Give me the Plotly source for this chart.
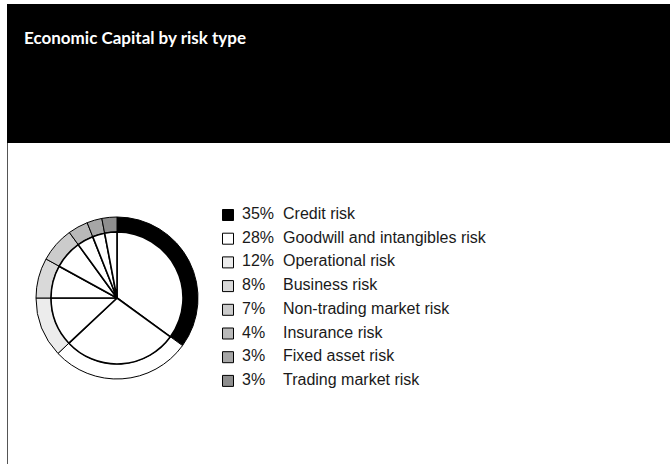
import plotly.graph_objects as go

# Economic Capital split by risk type (percent of total)
risk_types = [
    "Credit risk",
    "Goodwill and intangibles risk",
    "Operational risk",
    "Business risk",
    "Non-trading market risk",
    "Insurance risk",
    "Fixed asset risk",
    "Trading market risk",
]
shares = [35, 28, 12, 8, 7, 4, 3, 3]
shades = ["#000000", "#ffffff", "#ececec", "#d9d9d9", "#cbcbcb",
          "#b9b9b9", "#a6a6a6", "#8e8e8e"]

W, H = 670, 464


def px(x):
    return x / W


def py(y):
    return 1 - y / H


# pie geometry (pixels)
CX, CY = 117, 298
R_OUT, R_IN = 81, 66

fig = go.Figure()

# coloured outer ring
fig.add_trace(go.Pie(
    values=shares, labels=risk_types, sort=False, direction="clockwise",
    rotation=0, hole=R_IN / R_OUT, textinfo="none", hoverinfo="label+percent",
    marker=dict(colors=shades, line=dict(color="#000000", width=1)),
    domain=dict(x=[px(CX - R_OUT), px(CX + R_OUT)], y=[py(CY + R_OUT), py(CY - R_OUT)]),
    showlegend=False,
))

# white inner pie with black spokes
fig.add_trace(go.Pie(
    values=shares, labels=risk_types, sort=False, direction="clockwise",
    rotation=0, textinfo="none", hoverinfo="label+percent",
    marker=dict(colors=["#ffffff"] * len(shares), line=dict(color="#000000", width=1.6)),
    domain=dict(x=[px(CX - R_IN), px(CX + R_IN)], y=[py(CY + R_IN), py(CY - R_IN)]),
    showlegend=False,
))

# legend drawn as rows on a hidden axis: row index -> vertical position
ROW0, ROW_STEP = 215, 23.7
rows = list(range(len(risk_types)))
y_top = -ROW0 / ROW_STEP
y_bot = (H - ROW0) / ROW_STEP
MARK_X, PCT_X, NAME_X = 228, 242, 283
LEG_FONT = dict(family="Liberation Sans, Arial, sans-serif", size=16, color="#1a1a1a")

fig.add_trace(go.Scatter(
    x=[MARK_X] * len(rows), y=rows, mode="markers", hoverinfo="skip",
    marker=dict(symbol="square", size=11, color=shades, line=dict(color="#000000", width=1)),
    showlegend=False,
))
fig.add_trace(go.Scatter(
    x=[PCT_X] * len(rows), y=rows, mode="text", hoverinfo="skip",
    text=[f"{v}%" for v in shares], textposition="middle right", textfont=LEG_FONT,
    showlegend=False,
))
fig.add_trace(go.Scatter(
    x=[NAME_X] * len(rows), y=rows, mode="text", hoverinfo="skip",
    text=risk_types, textposition="middle right", textfont=LEG_FONT,
    showlegend=False,
))

fig.update_layout(
    width=W, height=H,
    margin=dict(l=0, r=0, t=0, b=0),
    paper_bgcolor="#ffffff", plot_bgcolor="rgba(0,0,0,0)",
    xaxis=dict(range=[0, W], domain=[0, 1], visible=False, fixedrange=True),
    yaxis=dict(range=[y_bot, y_top], domain=[0, 1], visible=False, fixedrange=True),
    shapes=[
        dict(type="rect", xref="paper", yref="paper", x0=px(7), x1=1, y0=py(143), y1=py(4),
             fillcolor="#000000", line=dict(width=0), layer="below"),
        dict(type="line", xref="paper", yref="paper", x0=px(7.5), x1=px(7.5), y0=py(143), y1=0,
             line=dict(color="#555555", width=1)),
    ],
    annotations=[
        dict(text="<b>Economic Capital by risk type</b>", xref="paper", yref="paper",
             x=px(22), y=py(38), xanchor="left", yanchor="middle", showarrow=False,
             font=dict(family="Lato, Roboto, sans-serif", size=17, color="#ffffff")),
    ],
)

fig.write_html("out.html")
